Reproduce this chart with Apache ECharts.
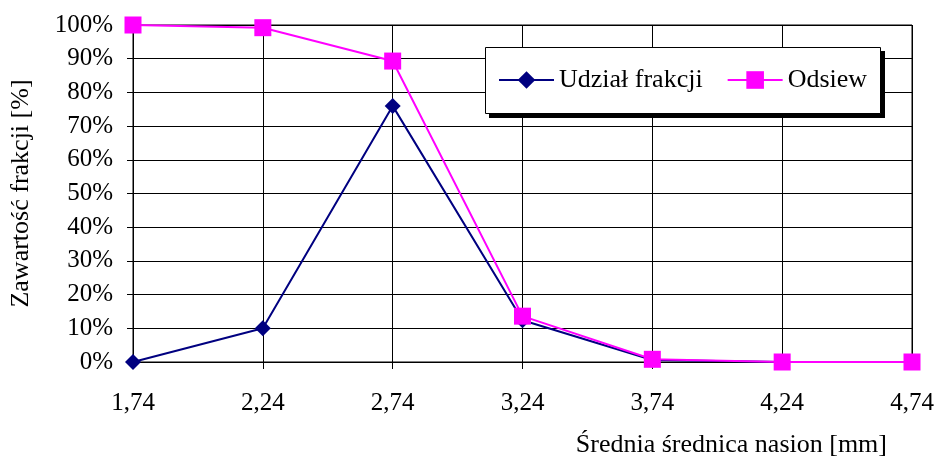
<!DOCTYPE html>
<html>
<head>
<meta charset="utf-8">
<script src="https://cdn.jsdelivr.net/npm/echarts@6/dist/echarts.min.js"></script>
<style>
html,body{margin:0;padding:0;background:#fff;}
#c{width:939px;height:466px;}
</style>
</head>
<body>
<div id="c"></div>
<script>
var categories = ['1,74','2,24','2,74','3,24','3,74','4,24','4,74'];
var udzialFrakcji = [0, 10, 76, 12.4, 0.6, 0, 0];
var odsiew = [100, 99.2, 89.3, 13.6, 0.8, 0, 0];
var yTicks = {min: 0, max: 100, interval: 10};

var FONT = '"Liberation Serif", "Times New Roman", serif';
var chart = echarts.init(document.getElementById('c'), null, {renderer: 'canvas'});
chart.setOption({
  animation: false,
  backgroundColor: '#fff',
  textStyle: {fontFamily: FONT, color: '#000'},
  grid: {left: 133, right: 27, top: 25, bottom: 104, show: true, borderColor: '#000', borderWidth: 1, containLabel: false},
  legend: {
    left: 498, top: 67,
    padding: 0,
    itemGap: 24,
    itemWidth: 55, itemHeight: 22,
    z: 20,
    textStyle: {fontFamily: FONT, fontSize: 26, color: '#000'},
    data: ['Udział frakcji', 'Odsiew']
  },
  xAxis: {
    type: 'category',
    data: categories,
    boundaryGap: false,
    axisLine: {lineStyle: {color: '#000', width: 1}},
    axisTick: {show: true, inside: false, length: 7, lineStyle: {color: '#000'}},
    axisLabel: {fontFamily: FONT, fontSize: 25, color: '#000', margin: 29},
    splitLine: {show: true, lineStyle: {color: '#000', width: 1}}
  },
  yAxis: {
    type: 'value',
    min: yTicks.min, max: yTicks.max, interval: yTicks.interval,
    name: 'Zawartość frakcji [%]',
    nameLocation: 'middle',
    nameGap: 99,
    nameRotate: 90,
    nameTextStyle: {fontFamily: FONT, fontSize: 26, color: '#000'},
    axisLine: {show: true, lineStyle: {color: '#000', width: 1}},
    axisTick: {show: true, inside: false, length: 6, lineStyle: {color: '#000'}},
    axisLabel: {fontFamily: FONT, fontSize: 25, color: '#000', margin: 20, formatter: '{value}%'},
    splitLine: {show: true, lineStyle: {color: '#000', width: 1}}
  },
  graphic: [
    {type: 'rect', z: 10, shape: {x: 489, y: 51, width: 396, height: 67}, style: {fill: '#000'}},
    {type: 'rect', z: 11, shape: {x: 485.5, y: 47.5, width: 395, height: 66}, style: {fill: '#fff', stroke: '#000', lineWidth: 1}},
    {
      type: 'text',
      right: 52, top: 432,
      style: {text: 'Średnia średnica nasion [mm]', font: '26px ' + FONT, fill: '#000'}
    }
  ],
  series: [
    {
      name: 'Udział frakcji', type: 'line', data: udzialFrakcji,
      symbol: 'diamond', symbolSize: 16,
      lineStyle: {color: '#000080', width: 2},
      itemStyle: {color: '#000080'},
      z: 2
    },
    {
      name: 'Odsiew', type: 'line', data: odsiew,
      symbol: 'rect', symbolSize: 17,
      lineStyle: {color: '#FF00FF', width: 2},
      itemStyle: {color: '#FF00FF'},
      z: 3
    }
  ]
});
</script>
</body>
</html>
